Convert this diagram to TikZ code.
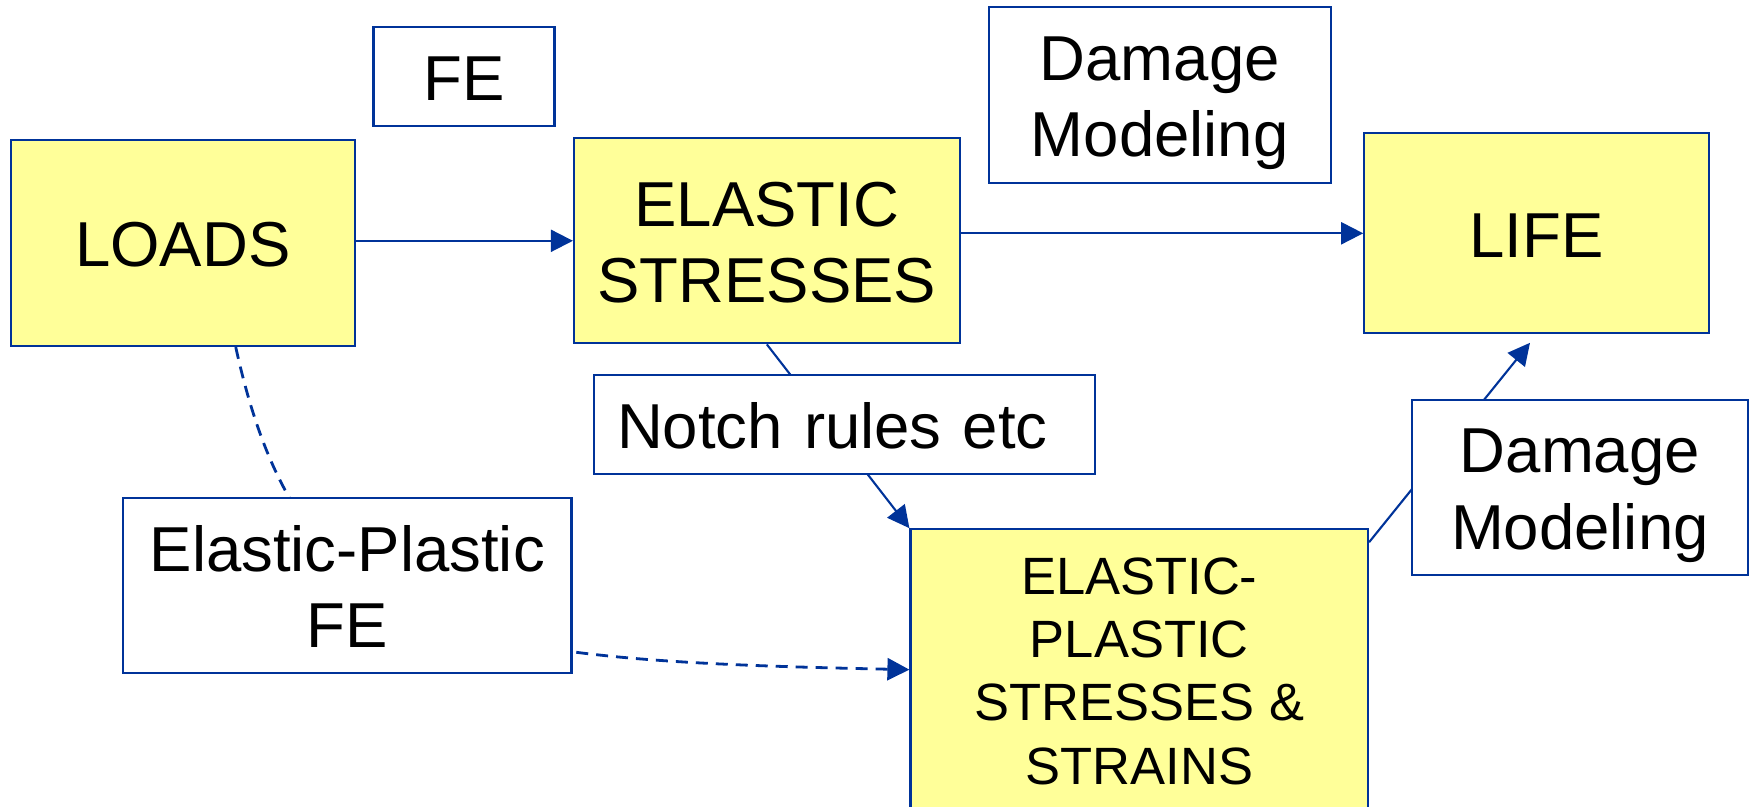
\documentclass[tikz,border=0pt]{standalone}
\usepackage{fontspec}
\setmainfont{Liberation Sans}
\usetikzlibrary{arrows.meta,calc,backgrounds}
\definecolor{edge}{RGB}{0,51,153}
\definecolor{stagefill}{RGB}{255,255,153}
% line strut: keeps every line the same height/depth so boxes centre on the text lines
\newcommand{\lstrut}{\rule[-0.2em]{0pt}{1.15em}}
\begin{document}
\begin{tikzpicture}[x=0.5pt,y=-0.5pt,
  box/.style 2 args={draw=edge, line width=1.1pt, inner sep=0pt, align=center,
    minimum width=#1*0.5pt, minimum height=#2*0.5pt,
    font=\fontsize{31.75pt}{38.1pt}\selectfont},
  stagebox/.style={fill=stagefill},
  notebox/.style={fill=white},
  link/.style={draw=edge, line width=1.05pt},
  arrowed/.style={-{Triangle[length=11pt,width=11pt]}},
  dashlink/.style={line width=1.4pt, dash pattern=on 6pt off 4pt}
]
\useasboundingbox (0,0) rectangle (1749,807);

% stages
\node[box={344.1}{205.7}, stagebox] (loads) at (182.75,243.15) {\lstrut LOADS};
\node[box={385.7}{205}, stagebox] (elastic) at (766.85,240.8) {\lstrut ELASTIC\\\lstrut STRESSES};
\node[box={344.4}{200}, stagebox] (life) at (1536.5,233.3) {\lstrut LIFE};
\node[box={457.5}{280.7}, stagebox, font=\fontsize{26.25pt}{31.6pt}\selectfont] (ep) at (1139.25,669.65)
  {\lstrut ELASTIC-\\\lstrut PLASTIC\\\lstrut STRESSES \&\\\lstrut STRAINS};

% methods
\node[box={181}{98.7}, notebox] (fe) at (464,76.65) {\lstrut FE};
\node[box={341.8}{175.4}, notebox] (dmtop) at (1159.7,95) {\lstrut Damage\\\lstrut Modeling};
\node[box={500.8}{99}, notebox, align=left, text width=227.5pt, inner xsep=11.5pt] (notch) at (844.6,424.5) {\lstrut Notch rules etc};
\node[box={335.7}{175.3}, notebox] (dmbot) at (1579.85,487.35) {\lstrut Damage\\\lstrut Modeling};
\node[box={448.5}{175}, notebox] (epfe) at (347.25,585.8) {\lstrut Elastic-Plastic\\\lstrut FE};

\coordinate (lifein) at ($(life.south)+(-6.5,8.4)$);

% connectors
\begin{pgfonlayer}{background}
\draw[link,arrowed] (loads.east |- elastic.west) -- (elastic.west);
\draw[link,arrowed] (elastic.east |- life.west) -- (life.west);
\draw[link,arrowed] (elastic.south) -- (ep.north west);
\draw[link,arrowed] ($(ep.north east)+(0,14)$) -- (lifein);
\draw[link,arrowed,dashlink] ($(loads.south)+(53,0)$) .. controls (300,640) and (450,660) .. (ep.west);
\end{pgfonlayer}
\end{tikzpicture}
\end{document}
